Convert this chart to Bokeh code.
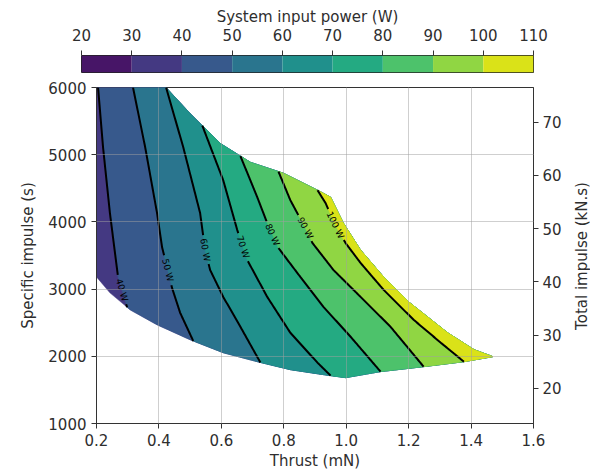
import math
import numpy as np
from bokeh.plotting import figure
from bokeh.models import LinearAxis, Range1d, FixedTicker, PrintfTickFormatter
from bokeh.layouts import column, row
from bokeh.palettes import Viridis256
from bokeh.core.properties import value
from bokeh.embed import file_html
from bokeh.resources import INLINE

# ---------------- data ----------------
levels = [20, 30, 40, 50, 60, 70, 80, 90, 100, 110]
line_levels = [40, 50, 60, 70, 80, 90, 100]
line_labels = ["40 W", "50 W", "60 W", "70 W", "80 W", "90 W", "100 W"]

x_ticks = [0.2, 0.4, 0.6, 0.8, 1.0, 1.2, 1.4, 1.6]
y_ticks = [1000, 2000, 3000, 4000, 5000, 6000]
imp_ticks = [20, 30, 40, 50, 60, 70]

# domain boundary (thrust mN, specific impulse s)
upper_thrust = [0.200, 0.423, 0.500, 0.596, 0.693, 0.799, 0.908, 0.950, 0.991, 1.046, 1.120, 1.200, 1.260, 1.325, 1.410, 1.470]
upper_isp = [6000, 6000, 5614, 5169, 4887, 4724, 4472, 4368, 3982, 3582, 3181, 2810, 2590, 2350, 2098, 1995]
lower_thrust = [0.200, 0.243, 0.308, 0.394, 0.500, 0.606, 0.715, 0.821, 0.927, 0.998, 1.110, 1.248, 1.377, 1.470]
lower_isp = [3181, 2944, 2691, 2469, 2246, 2053, 1920, 1801, 1727, 1682, 1772, 1846, 1920, 1995]

# contour lines (thrust, isp), from upper to lower boundary
c40_t = [0.205, 0.221, 0.243, 0.269, 0.298]
c40_i = [6000, 5110, 4131, 3181, 2766]
c50_t = [0.317, 0.356, 0.394, 0.410, 0.442, 0.468, 0.510]
c50_i = [6000, 5110, 4131, 3626, 3018, 2647, 2217]
c60_t = [0.423, 0.478, 0.532, 0.548, 0.564, 0.606, 0.661, 0.725]
c60_i = [6000, 5110, 4131, 3582, 3285, 2884, 2439, 1920]
c70_t = [0.539, 0.606, 0.651, 0.683, 0.747, 0.821, 0.908, 0.950]
c70_i = [5451, 4620, 3878, 3433, 2884, 2350, 1905, 1727]
c80_t = [0.661, 0.715, 0.747, 0.783, 0.853, 0.927, 1.014, 1.110]
c80_i = [5021, 4368, 3982, 3611, 3181, 2736, 2291, 1786]
c90_t = [0.783, 0.821, 0.869, 0.892, 0.959, 1.046, 1.142, 1.248]
c90_i = [4709, 4323, 3908, 3685, 3285, 2884, 2439, 1846]
c100_t = [0.908, 0.934, 0.965, 0.998, 1.046, 1.120, 1.216, 1.303, 1.377]
c100_i = [4442, 4279, 3953, 3685, 3389, 2988, 2543, 2202, 1920]

label_thrust = [0.287, 0.431, 0.548, 0.668, 0.763, 0.869, 0.965]
label_isp = [3000, 3285, 3582, 3620, 3804, 3908, 3953]

contours_t = [c40_t, c50_t, c60_t, c70_t, c80_t, c90_t, c100_t]
contours_i = [c40_i, c50_i, c60_i, c70_i, c80_i, c90_i, c100_i]

# ---------------- styling / layout ----------------
FONT = "DejaVu Sans"
TXT = "#2e2e2e"
XMIN, XMAX, YMIN, YMAX = 0.2, 1.6, 1000, 6000
IMP_MIN, IMP_MAX = 13.4, 76.5
W = 590
FL, FW, FH = 96, 437, 337
MAIN_W, LAB_W = 573, 17
MAIN_H, TOP = 398, 13

band_colors = []
for a, b in zip(levels[:-1], levels[1:]):
    f = ((a + b) / 2 - levels[0]) / (levels[-1] - levels[0])
    band_colors.append(Viridis256[min(255, int(f * 256))])

# ---------------- colour bar figure ----------------
cb = figure(width=W, height=74, x_range=(levels[0], levels[-1]), y_range=(0, 1),
            x_axis_location="above", y_axis_location=None,
            toolbar_location=None, output_backend="svg",
            min_border_left=81, min_border_right=57, min_border_top=55, min_border_bottom=2)
cb.frame_align = False
cb.quad(left=levels[:-1], right=levels[1:], bottom=0, top=1, fill_color=band_colors, line_color=None)
cb.grid.visible = False
cb.outline_line_color = "#222222"
cb.outline_line_width = 1
xa = cb.xaxis[0]
xa.ticker = FixedTicker(ticks=levels)
xa.formatter = PrintfTickFormatter(format="%d")
xa.axis_label = "System input power (W)"
xa.axis_label_text_font = FONT
xa.axis_label_text_font_size = "15px"
xa.axis_label_text_font_style = "normal"
xa.axis_label_text_color = TXT
xa.axis_label_standoff = 0
xa.major_label_text_font = FONT
xa.major_label_text_font_size = "15px"
xa.major_label_text_color = TXT
xa.major_label_standoff = 10
xa.major_tick_out = 5
xa.major_tick_in = 0
xa.minor_tick_out = 0
xa.minor_tick_in = 0
xa.axis_line_color = None
xa.major_tick_line_color = "#333333"

# ---------------- main figure ----------------
p = figure(width=MAIN_W, height=MAIN_H, x_range=Range1d(XMIN, XMAX), y_range=Range1d(YMIN, YMAX),
           toolbar_location=None, output_backend="svg",
           min_border_left=FL, min_border_right=MAIN_W - FL - FW, min_border_top=TOP,
           min_border_bottom=MAIN_H - TOP - FH)
p.frame_align = False
p.extra_y_ranges = {"imp": Range1d(IMP_MIN, IMP_MAX)}

SX = FW / (XMAX - XMIN)
SY = FH / (YMAX - YMIN)


def snap(t, s):
    s = list(s)
    s[0] = float(np.interp(t[0], upper_thrust, upper_isp))
    s[-1] = float(np.interp(t[-1], lower_thrust, lower_isp))
    return list(t), s


# full domain in the 30-40 band colour, then each band painted over it
dom_x = upper_thrust + lower_thrust[::-1][1:]
dom_y = upper_isp + lower_isp[::-1][1:]
xs, ys, cols = [dom_x], [dom_y], [band_colors[1]]

snapped = [snap(t, s) for t, s in zip(contours_t, contours_i)]
for (t, s), lev in zip(snapped, line_levels):
    lo = [(a, b) for a, b in zip(lower_thrust, lower_isp) if a > t[-1]]
    up = [(a, b) for a, b in zip(upper_thrust, upper_isp) if a > t[0]][::-1]
    px = t + [a for a, _ in lo] + [a for a, _ in up]
    py = s + [b for _, b in lo] + [b for _, b in up]
    xs.append(px)
    ys.append(py)
    cols.append(band_colors[levels.index(lev)])

p.patches(xs=xs, ys=ys, fill_color=cols, line_color=cols, line_width=0.5)

# contour lines with label gaps
LFS = 9
lab_x, lab_y, lab_a = [], [], []
for (t, s), lt, ls, txt in zip(snapped, label_thrust, label_isp, line_labels):
    dt, ds = [], []
    for k in range(len(t) - 1):
        f = np.linspace(0, 1, 30, endpoint=False)
        dt.extend(t[k] + f * (t[k + 1] - t[k]))
        ds.extend(s[k] + f * (s[k + 1] - s[k]))
    dt.append(t[-1]); ds.append(s[-1])
    dt = np.array(dt); ds = np.array(ds)
    pxv = (dt - XMIN) * SX
    pyv = (ds - YMIN) * SY
    lx = (lt - XMIN) * SX
    ly = (ls - YMIN) * SY
    d = np.hypot(pxv - lx, pyv - ly)
    j = int(np.argmin(d))
    cx, cy = pxv[j], pyv[j]
    j0, j1 = max(0, j - 3), min(len(dt) - 1, j + 3)
    ang = math.atan2(pyv[j1] - pyv[j0], pxv[j1] - pxv[j0])
    half = 0.5 * len(txt) * 0.62 * LFS + 3
    gap = np.hypot(pxv - cx, pyv - cy) < half
    ldt = dt.copy(); lds = ds.copy()
    ldt[gap] = np.nan; lds[gap] = np.nan
    p.line(ldt, lds, line_color="black", line_width=2)
    lab_x.append(dt[j]); lab_y.append(ds[j]); lab_a.append(ang)

p.text(x=lab_x, y=lab_y, text=line_labels, angle=lab_a, text_align="center",
       text_baseline="middle", text_font=value(FONT), text_font_size=f"{LFS}px",
       text_color="black")

# grid
p.xgrid.ticker = FixedTicker(ticks=x_ticks)
p.ygrid.ticker = FixedTicker(ticks=y_ticks)
p.grid.grid_line_color = "#a0a0a0"
p.grid.grid_line_alpha = 0.5
p.grid.grid_line_width = 1
p.grid.level = "overlay"
p.outline_line_color = "#333333"
p.outline_line_width = 1


def style_axis(ax, label):
    if label:
        ax.axis_label = label
    ax.axis_label_text_font = FONT
    ax.axis_label_text_font_size = "15px"
    ax.axis_label_text_font_style = "normal"
    ax.axis_label_text_color = TXT
    ax.major_label_text_font = FONT
    ax.major_label_text_font_size = "15px"
    ax.major_label_text_color = TXT
    ax.major_tick_out = 5
    ax.major_tick_in = 0
    ax.minor_tick_out = 0
    ax.minor_tick_in = 0
    ax.axis_line_color = "#333333"
    ax.major_tick_line_color = "#333333"


xa = p.xaxis[0]
xa.ticker = FixedTicker(ticks=x_ticks)
xa.formatter = PrintfTickFormatter(format="%.1f")
style_axis(xa, "Thrust (mN)")
xa.major_label_standoff = 5
xa.axis_label_standoff = 3

ya = p.yaxis[0]
ya.ticker = FixedTicker(ticks=y_ticks)
ya.formatter = PrintfTickFormatter(format="%d")
style_axis(ya, "Specific impulse (s)")
ya.major_label_standoff = 5
ya.axis_label_standoff = 8

ra = LinearAxis(y_range_name="imp", ticker=FixedTicker(ticks=imp_ticks),
                formatter=PrintfTickFormatter(format="%d"))
style_axis(ra, None)
ra.major_label_standoff = 4
p.add_layout(ra, "right")

# ---------------- right-hand axis title (reads bottom to top) ----------------
lf = figure(width=LAB_W, height=MAIN_H, x_range=Range1d(0, LAB_W), y_range=Range1d(0, MAIN_H),
            x_axis_location=None, y_axis_location=None, toolbar_location=None,
            output_backend="svg", min_border=0)
lf.frame_align = False
lf.grid.visible = False
lf.outline_line_color = None
lf.text(x=[LAB_W / 2], y=[MAIN_H - TOP - FH / 2], text=["Total impulse (kN.s)"],
        angle=math.pi / 2, text_align="center", text_baseline="middle",
        text_font=value(FONT), text_font_size="15px", text_color=TXT)

layout = column(cb, row(p, lf, spacing=0), spacing=0)
open("out.html", "w").write(file_html(layout, INLINE))
